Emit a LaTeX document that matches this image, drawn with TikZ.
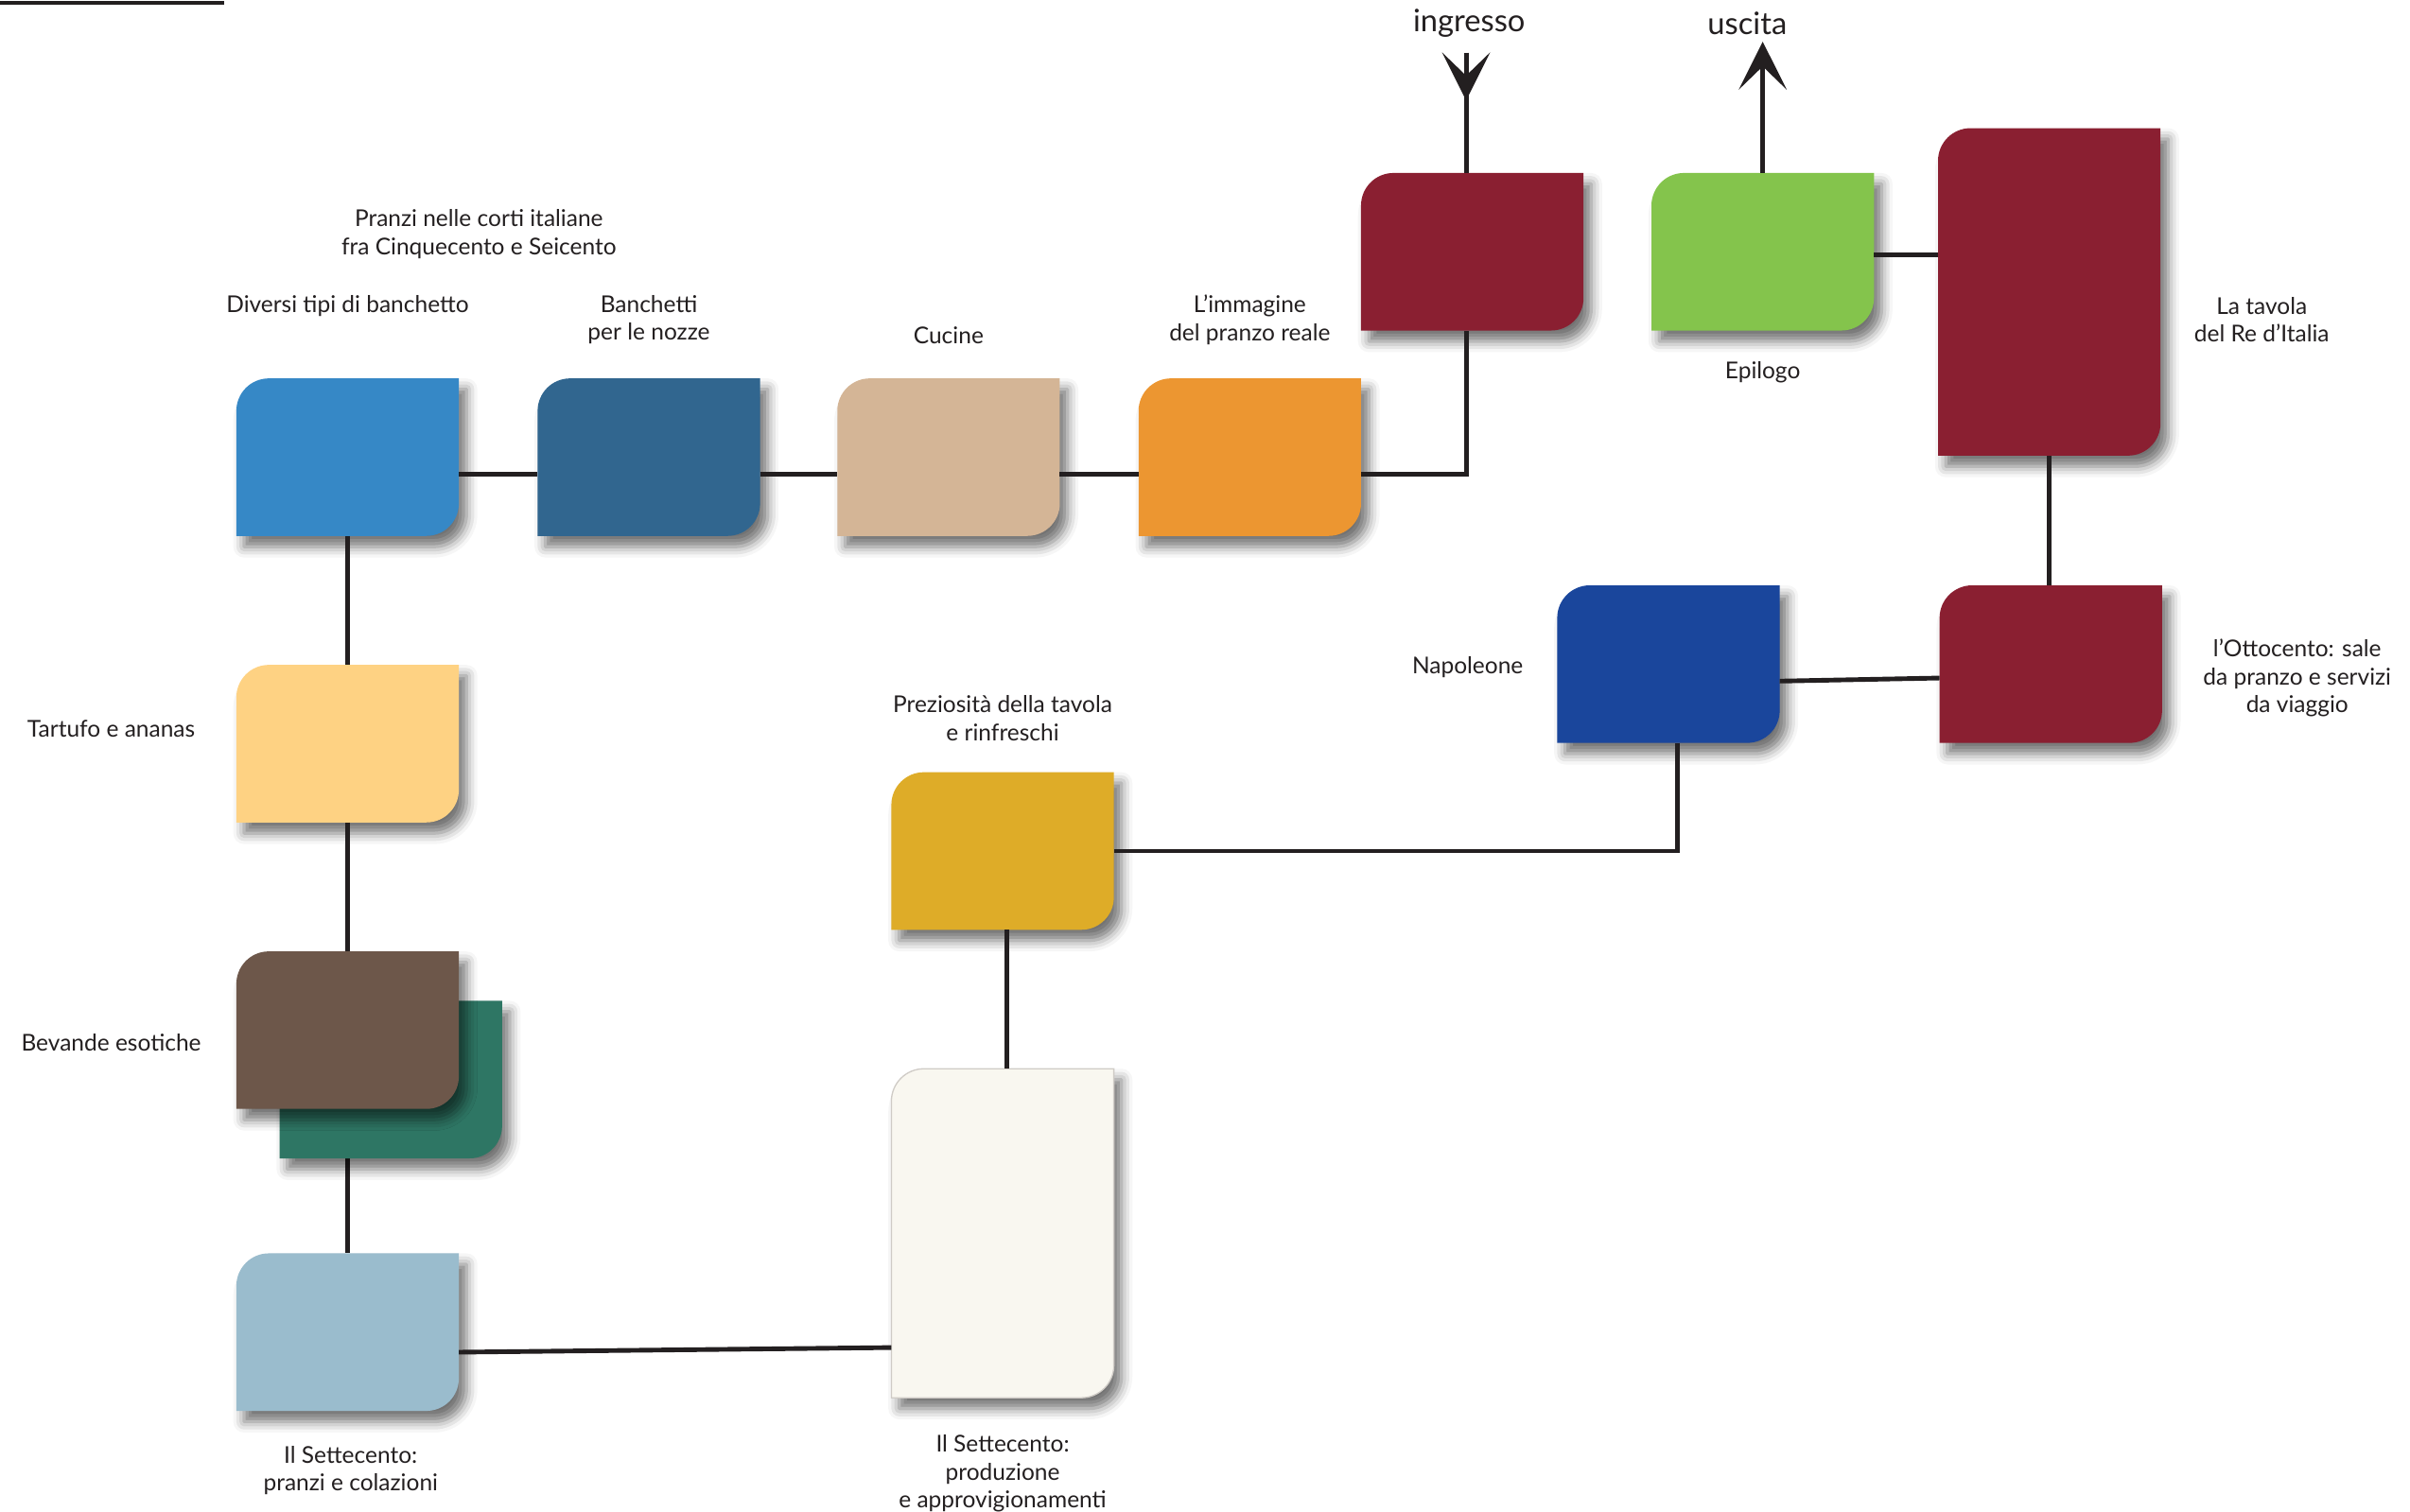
\documentclass[tikz,border=0pt]{standalone}
\usepackage{fontspec}
\setmainfont{Lato}
\usetikzlibrary{calc,shadows.blur,arrows.meta}
\definecolor{cB1}{HTML}{3688C6}
\definecolor{cB2}{HTML}{31668F}
\definecolor{cTan}{HTML}{D4B596}
\definecolor{cOrange}{HTML}{EC9631}
\definecolor{cRed}{HTML}{8A1F31}
\definecolor{cGreen}{HTML}{84C44C}
\definecolor{cNapo}{HTML}{1A469C}
\definecolor{cGold}{HTML}{DEAC28}
\definecolor{cCream}{HTML}{F9F7F0}
\definecolor{cCreamB}{HTML}{CFCBC6}
\definecolor{cYellow}{HTML}{FED283}
\definecolor{cBrown}{HTML}{6D574A}
\definecolor{cTeal}{HTML}{2E7664}
\definecolor{cLight}{HTML}{9ABCCD}
\definecolor{lineC}{HTML}{231F20}
\definecolor{textC}{HTML}{231F20}
\tikzset{
  card/.style={minimum width=144pt, minimum height=102pt, inner sep=0pt, outer sep=0pt},
  tallcard/.style={card, minimum height=212pt},
  boxshadow/.style={blur shadow={shadow xshift=5pt, shadow yshift=-7pt, shadow blur radius=7pt, shadow opacity=55}},
  conn/.style={draw=lineC, line width=3pt},
  lab/.style={font=\fontsize{15}{18}\selectfont, text=textC, align=center, inner sep=0pt},
  biglab/.style={font=\fontsize{20}{24}\selectfont, text=textC, inner sep=0pt},
  tiparrow/.style={-{Stealth[length=31pt,width=31pt,inset=15pt]}}
}
\def\rr{21pt}
\newcommand\cardfill[2]{%
  \path[boxshadow,#2] let \p1=(#1.north west), \p2=(#1.south east) in
    (\x1,\y2) -- (\x1,\y1-\rr)
    .. controls (\x1,\y1-0.448*\rr) and (\x1+0.448*\rr,\y1) .. (\x1+\rr,\y1)
    -- (\x2,\y1) -- (\x2,\y2+\rr)
    .. controls (\x2,\y2+0.448*\rr) and (\x2-0.448*\rr,\y2) .. (\x2-\rr,\y2)
    -- cycle;
}
\begin{document}
\begin{tikzpicture}[x=1pt,y=-1pt]
\useasboundingbox (0,0) rectangle (1560,978.4);
% placement of cards
\node[card] (b1) at (225,296) {};
\node[card] (b2) at (420,296) {};
\node[card] (b3) at (614,296) {};
\node[card] (b4) at (809,296) {};
\node[card] (r1) at (953,163) {};
\node[card] (g) at (1141,163) {};
\node[tallcard] (r2) at (1326.5,189) {};
\node[card] (r3) at (1327.5,430) {};
\node[card] (n) at (1080,430) {};
\node[card] (gold) at (649,551) {};
\node[card, minimum height=213pt] (w) at (649,798.5) {};
\node[card] (t) at (225,481.5) {};
\node[card] (gr) at (253,699) {};
\node[card] (br) at (225,667) {};
\node[card] (lb) at (225,862.5) {};
% hidden connector behind the stacked cards
\draw[conn] (br.south) -- (lb.north);
% card shapes
\cardfill{b1}{fill=cB1}
\cardfill{b2}{fill=cB2}
\cardfill{b3}{fill=cTan}
\cardfill{b4}{fill=cOrange}
\cardfill{r1}{fill=cRed}
\cardfill{g}{fill=cGreen}
\cardfill{r2}{fill=cRed}
\cardfill{r3}{fill=cRed}
\cardfill{n}{fill=cNapo}
\cardfill{gold}{fill=cGold}
\cardfill{w}{fill=cCream, draw=cCreamB, line width=0.8pt}
\cardfill{t}{fill=cYellow}
\cardfill{gr}{fill=cTeal}
\cardfill{br}{fill=cBrown}
\cardfill{lb}{fill=cLight}
% connectors
\coordinate (inA) at (949,34);
\coordinate (inT) at (949,65);
\coordinate (outA) at (1141,27);
\coordinate (tl0) at (0,2);
\coordinate (tl1) at (145,2);
\draw[draw=lineC, line width=2.5pt] (tl0) -- (tl1);
\draw[conn] ([yshift=-11pt]b1.east) -- ([yshift=-11pt]b2.west);
\draw[conn] ([yshift=-11pt]b2.east) -- ([yshift=-11pt]b3.west);
\draw[conn] ([yshift=-11pt]b3.east) -- ([yshift=-11pt]b4.west);
\draw[conn] ([yshift=-11pt]b4.east) -| ([xshift=-4pt]r1.south);
\draw[conn] ([xshift=-4pt]r1.north) -- (inA);
\draw[conn,tiparrow] (inA) -- (inT);
\draw[conn,tiparrow] (g.north) -- (outA);
\draw[conn] ([yshift=-2pt]g.east) -- ([yshift=-2pt]g.east -| r2.west);
\draw[conn] (r2.south) -- (r2.south |- r3.north);
\draw[conn] ([yshift=-9pt]r3.west) -- ([yshift=-11pt]n.east);
\draw[conn] ([xshift=6pt]n.south) |- (gold.east);
\draw[conn] ([xshift=3pt]gold.south) -- ([xshift=3pt]gold.south |- w.north);
\draw[conn] ([yshift=-74pt]w.west) -- ([yshift=-13pt]lb.east);
\draw[conn] (b1.south) -- (t.north);
\draw[conn] (t.south) -- (br.north);
% labels
\node[lab] (lPranzi) at (310,151.5) {Pranzi nelle corti italiane\\fra Cinquecento e Seicento};
\node[lab] (lDiv) at (225,198) {Diversi tipi di banchetto};
\node[lab] (lBan) at (420,207) {Banchetti\\per le nozze};
\node[lab] (lCuc) at (614,217) {Cucine};
\node[lab] (lImm) at (809,207) {L’immagine\\del pranzo reale};
\node[biglab] (lIn) at (951,15) {ingresso};
\node[biglab] (lOut) at (1131,15) {uscita};
\node[lab] (lEpi) at (1141,241) {Epilogo};
\node[lab] (lTav) at (1464,207) {La tavola\\del Re d’Italia};
\node[lab] (lNap) at (950,432) {Napoleone};
\node[lab] (lOtt) at (1487,439) {l’Ottocento: sale\\da pranzo e servizi\\da viaggio};
\node[lab] (lPre) at (649,465) {Preziosità della tavola\\e rinfreschi};
\node[lab] (lTar) at (72,472) {Tartufo e ananas};
\node[lab] (lBev) at (72,675) {Bevande esotiche};
\node[lab] (lS1) at (227,952) {Il Settecento:\\pranzi e colazioni};
\node[lab] (lS2) at (649,954) {Il Settecento:\\produzione\\e approvigionamenti};
\end{tikzpicture}
\end{document}
